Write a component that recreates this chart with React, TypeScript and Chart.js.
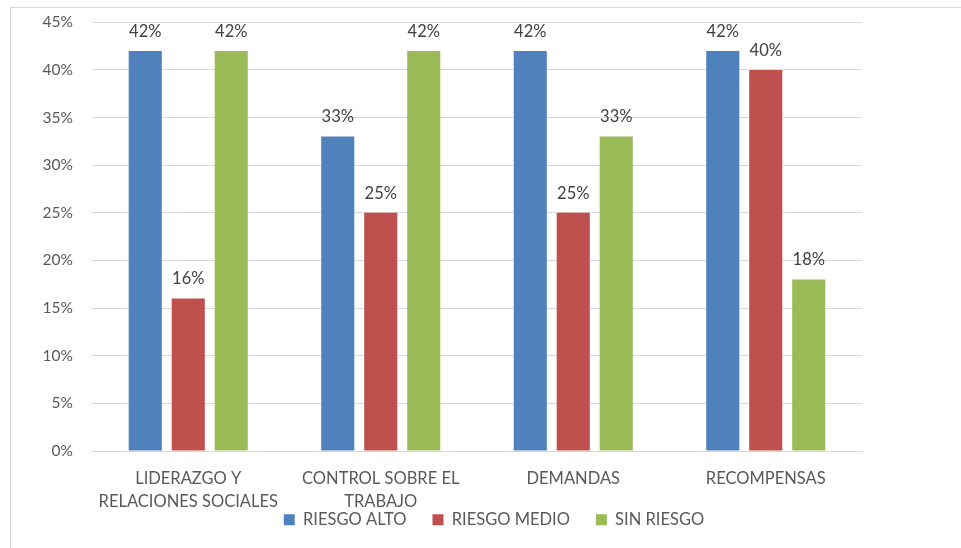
import React, { useEffect, useRef } from "react";
import { Chart, registerables } from "chart.js";

Chart.register(...registerables);

const categories: (string | string[])[] = [
  ["LIDERAZGO Y", "RELACIONES SOCIALES"],
  ["CONTROL SOBRE EL", "TRABAJO"],
  "DEMANDAS",
  "RECOMPENSAS",
];
const riesgoAlto = [42, 33, 42, 42];
const riesgoMedio = [16, 25, 25, 40];
const sinRiesgo = [42, 42, 33, 18];
const seriesNames = ["RIESGO ALTO", "RIESGO MEDIO", "SIN RIESGO"];
const seriesColors = ["#4f81bd", "#c0504d", "#9bbb59"];

const FONT = "Lato, 'Liberation Sans', sans-serif";

const dataLabels = {
  id: "dataLabels",
  afterDatasetsDraw(chart: any) {
    const ctx = chart.ctx;
    ctx.save();
    ctx.font = `16.5px ${FONT}`;
    ctx.fillStyle = "#404040";
    ctx.textAlign = "center";
    ctx.textBaseline = "middle";
    chart.data.datasets.forEach((ds: any, i: number) => {
      const meta = chart.getDatasetMeta(i);
      meta.data.forEach((bar: any, j: number) => {
        ctx.fillText(`${ds.data[j]}%`, bar.x, bar.y - 19.5);
      });
    });
    ctx.restore();
  },
};

const legendShift = {
  id: "legendShift",
  afterLayout(chart: any) {
    const lg = chart.legend;
    if (lg) {
      lg.left += 63;
      lg.right += 63;
      lg.top -= 26;
      lg.bottom -= 26;
    }
  },
};

export default function App() {
  const ref = useRef<HTMLCanvasElement>(null);
  useEffect(() => {
    if (!ref.current) return;
    const chart = new Chart(ref.current, {
      type: "bar",
      data: {
        labels: categories,
        datasets: [riesgoAlto, riesgoMedio, sinRiesgo].map((d, i) => ({
          label: seriesNames[i],
          data: d,
          backgroundColor: seriesColors[i],
          categoryPercentage: 0.67,
          barPercentage: 0.77,
        })),
      },
      options: {
        responsive: false,
        animation: false,
        layout: { padding: { top: 10, right: 99, bottom: 0, left: 0 } },
        plugins: {
          legend: {
            position: "bottom",
            labels: {
              boxWidth: 11,
              boxHeight: 11,
              padding: 26,
              color: "#595959",
              font: { family: FONT, size: 16.5 },
            },
          },
          tooltip: { enabled: false },
        },
        scales: {
          x: {
            grid: { display: false, drawTicks: false },
            border: { color: "#d9d9d9", width: 1 },
            ticks: {
              color: "#595959",
              font: { family: FONT, size: 16.5, lineHeight: 1.4 },
              padding: 16,
              maxRotation: 0,
              autoSkip: false,
            },
            afterFit(scale: any) {
              scale.height = 60.5;
            },
          },
          y: {
            min: 0,
            max: 45,
            grid: { color: "#d9d9d9", drawTicks: true, tickLength: 6, tickColor: "rgba(0,0,0,0)" },
            border: { display: false },
            ticks: {
              stepSize: 5,
              color: "#595959",
              font: { family: FONT, size: 15.5 },
              padding: 13,
              callback: (v: any) => `${v}%`,
            },
            afterFit(scale: any) {
              scale.width = 92;
            },
          },
        },
      },
      plugins: [dataLabels, legendShift],
    });
    return () => chart.destroy();
  }, []);
  return (
    <div style={{ position: "fixed", left: 0, top: 0, width: 961, height: 548, overflow: "hidden", background: "#fff" }}>
      <div
        style={{
          position: "absolute",
          left: 10,
          top: 7,
          width: 1000,
          height: 600,
          border: "1px solid #d9d9d9",
          boxSizing: "border-box",
        }}
      />
      <canvas ref={ref} width={961} height={564} style={{ position: "absolute", left: 0, top: 0 }} />
    </div>
  );
}
